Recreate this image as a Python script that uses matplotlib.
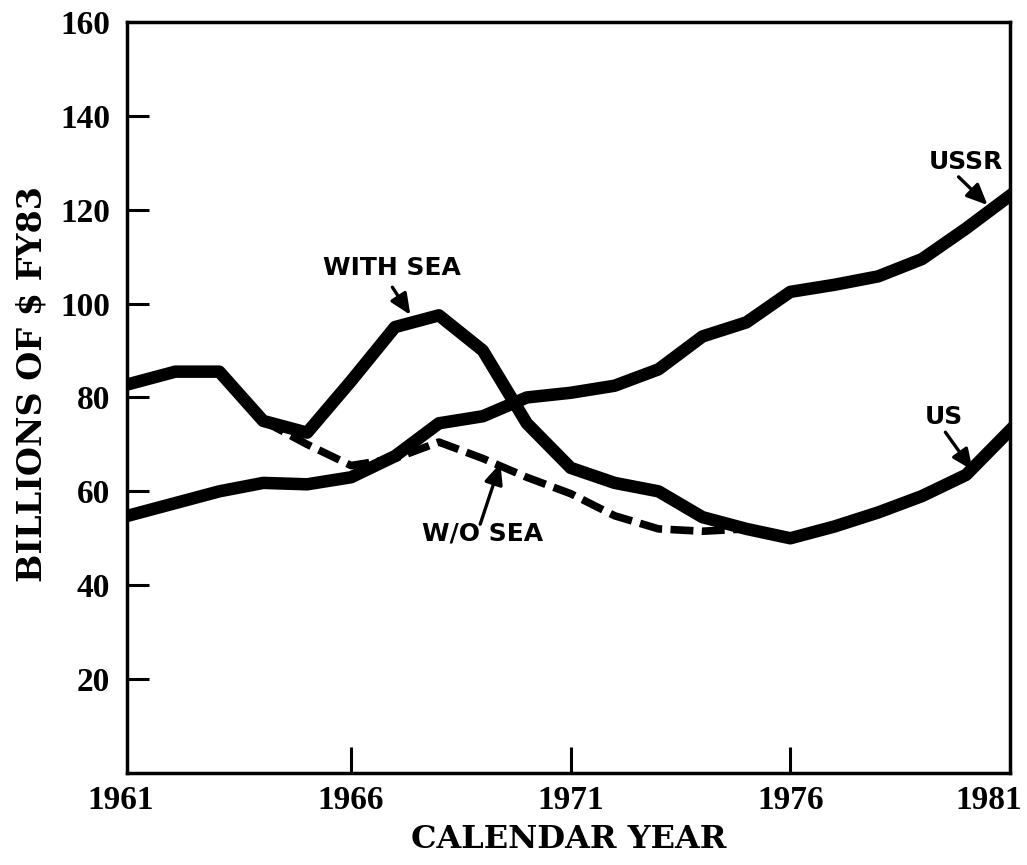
import numpy as np
import matplotlib
matplotlib.use("Agg")
from matplotlib import pyplot as plt
import matplotlib.transforms as mtransforms

# values (billions of $ FY83)
years = np.arange(1961, 1982)
ussr = [55, 57.5, 60, 61.8, 61.5, 63, 67.5, 74.5, 76, 80, 81, 82.5, 86, 93, 96,
        102.5, 104, 105.8, 109.5, 116, 123]
us_with_sea = [83, 85.5, 85.5, 75, 72.5, 83.5, 95, 97.5, 90, 74.5, 65, 61.8, 60,
               54.5, 52, 50, 52.5, 55.5, 59, 63.5, 73]
years_wo = np.arange(1964, 1976)
us_without_sea = [75, 70, 65.5, 67, 70.5, 67, 63, 59.5, 54.8, 52, 51.5, 52]

xticks = [1961, 1966, 1971, 1976, 1981]
yticks = [20, 40, 60, 80, 100, 120, 140, 160]

fig = plt.figure(figsize=(10.27, 8.65), dpi=100)
ax = fig.add_axes([0.1237, 0.1064, 0.8597, 0.8682])

ax.plot(years_wo, us_without_sea, color="black", lw=5.5, linestyle=(0, (3.0, 1.1)),
        dash_capstyle="butt")
ax.plot(years, ussr, color="black", lw=9, solid_capstyle="projecting")
ax.plot(years, us_with_sea, color="black", lw=9, solid_capstyle="projecting")

ax.set_xlim(1960.9, 1981.0)
ax.set_ylim(0, 160)

for s in ax.spines.values():
    s.set_linewidth(2.5)

ax.set_xticks(xticks)
ax.set_yticks(yticks)
ax.tick_params(axis="both", direction="in", width=2.2, labelsize=24,
               labelfontfamily="Liberation Serif")
ax.tick_params(axis="x", length=19, pad=9)
ax.tick_params(axis="y", length=16, pad=12)
for lab in ax.get_xticklabels() + ax.get_yticklabels():
    lab.set_fontweight("bold")

# no tick marks on the frame edges
xt = ax.xaxis.get_major_ticks()
xt[0].tick1line.set_visible(False)
xt[-1].tick1line.set_visible(False)
ax.yaxis.get_major_ticks()[-1].tick1line.set_visible(False)

# end year labels sit a little inside the frame
xl = ax.get_xticklabels()
xl[0].set_transform(xl[0].get_transform() + mtransforms.ScaledTranslation(-0.11, 0, fig.dpi_scale_trans))
xl[-1].set_transform(xl[-1].get_transform() + mtransforms.ScaledTranslation(-0.21, 0, fig.dpi_scale_trans))

ax.set_xlabel("CALENDAR YEAR", family="DejaVu Serif", weight="bold", fontsize=23, va="top")
ax.xaxis.set_label_coords(0.5, -0.068)
ax.set_ylabel("BILLIONS OF $ FY83", family="DejaVu Serif", weight="bold", fontsize=24, va="center")
ax.yaxis.set_label_coords(-0.1076, 0.518)

# labels with arrows
lbl = dict(family="DejaVu Sans", weight="bold", fontsize=18, ha="center", va="center")
arr = dict(arrowstyle="-|>,head_length=0.9,head_width=0.4", color="black", lw=2.4,
           shrinkA=0, shrinkB=0, mutation_scale=14)

ax.text(1966.94, 107.6, "WITH SEA", **lbl)
ax.annotate("", xy=(1967.35, 97.6), xytext=(1966.94, 103.5), arrowprops=arr)

ax.text(1968.99, 51.1, "W/O SEA", **lbl)
ax.annotate("", xy=(1969.4, 66.0), xytext=(1968.94, 53.0), arrowprops=arr)

ax.text(1979.99, 130.2, "USSR", **lbl)
ax.annotate("", xy=(1980.49, 121.0), xytext=(1979.83, 127.0), arrowprops=arr)

ax.text(1979.49, 75.8, "US", **lbl)
ax.annotate("", xy=(1980.15, 64.5), xytext=(1979.53, 72.6), arrowprops=arr)

fig.savefig("out.png", dpi=100)
